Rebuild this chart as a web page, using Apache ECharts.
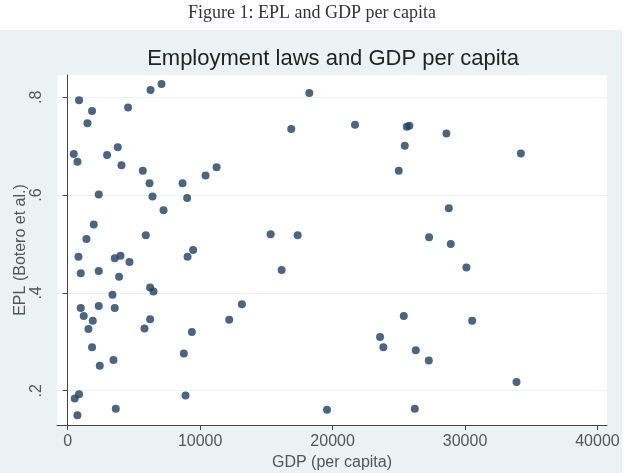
<!DOCTYPE html>
<html>
<head>
<meta charset="utf-8">
<script src="https://cdn.jsdelivr.net/npm/echarts@6/dist/echarts.min.js"></script>
<style>
    html, body { margin: 0; padding: 0; background: #fff; }
    #chart { width: 625px; height: 473px; }
</style>
</head>
<body>
<div id="chart"></div>
<script>
// GDP per capita (x) and EPL index (y)
const gdp = [
    854, 6251, 7082, 1837, 1489, 4558, 454, 733, 2971, 3779,
    4059, 5669, 6175, 6402, 7234, 8670, 9017, 10408, 11240, 2343,
    1965, 1413, 5896, 809, 3553, 3983, 4664, 9048, 9471, 983,
    2343, 3878, 3379, 6221, 6478, 983, 2343, 3553, 1209, 1890,
    1565, 6221, 5797, 9373, 1837, 2419, 3454, 8768, 529, 854,
    733, 3628, 8896, 18239, 16878, 21693, 25601, 25798, 25450, 24996,
    15321, 17362, 16153, 13152, 12192, 25374, 23583, 23832, 26281, 19577,
    26206, 28594, 34218, 28775, 27286, 28926, 30106, 30537, 27264, 33885
]
const epl = [
    0.794, 0.815, 0.827, 0.772, 0.747, 0.779, 0.684, 0.668, 0.682, 0.698,
    0.661, 0.650, 0.624, 0.597, 0.569, 0.624, 0.594, 0.640, 0.657, 0.601,
    0.540, 0.510, 0.518, 0.474, 0.471, 0.476, 0.463, 0.474, 0.488, 0.440,
    0.445, 0.433, 0.396, 0.411, 0.403, 0.369, 0.373, 0.369, 0.353, 0.343,
    0.326, 0.346, 0.327, 0.320, 0.289, 0.251, 0.263, 0.276, 0.184, 0.193,
    0.150, 0.163, 0.190, 0.809, 0.735, 0.744, 0.740, 0.742, 0.701, 0.650,
    0.520, 0.518, 0.447, 0.377, 0.345, 0.353, 0.310, 0.289, 0.283, 0.161,
    0.163, 0.726, 0.685, 0.573, 0.514, 0.500, 0.452, 0.343, 0.262, 0.218
]
const xTicks = [0, 10000, 20000, 30000, 40000]
const yTicks = [0.2, 0.4, 0.6, 0.8]

const points = gdp.map((g, i) => [g, epl[i]])

const chart = echarts.init(document.getElementById('chart'))

const option = {
    backgroundColor: '#ffffff',
    animation: false,
    graphic: [
        {
            type: 'rect',
            z: -100,
            shape: { x: 0, y: 30, width: 622, height: 443 },
            style: { fill: '#eaf2f3' }
        },
        {
            type: 'text',
            x: 312,
            y: 13,
            style: {
                text: 'Figure 1: EPL and GDP per capita',
                font: '18px "Liberation Serif", "DejaVu Serif", serif',
                fill: '#333',
                align: 'center',
                verticalAlign: 'middle'
            }
        },
        {
            type: 'text',
            x: 333,
            y: 59,
            style: {
                text: 'Employment laws and GDP per capita',
                font: '22px "Liberation Sans", Arial, sans-serif',
                fill: '#222',
                align: 'center',
                verticalAlign: 'middle'
            }
        }
    ],
    grid: {
        left: 57,
        top: 75,
        right: 18,
        bottom: 48,
        outerBoundsMode: 'none',
        show: true,
        backgroundColor: '#ffffff',
        borderWidth: 0
    },
    xAxis: {
        type: 'value',
        min: -810,
        max: 40720,
        name: 'GDP (per capita)',
        nameLocation: 'middle',
        nameGap: 27,
        nameTextStyle: { fontFamily: 'Liberation Sans', fontSize: 16, color: '#555' },
        axisLine: { show: true, lineStyle: { color: '#444', width: 1 } },
        axisTick: { show: true, length: 5, customValues: xTicks, lineStyle: { color: '#444' } },
        axisLabel: {
            customValues: xTicks,
            fontFamily: 'Liberation Sans',
            fontSize: 16,
            color: '#555',
            margin: 9,
            formatter: (v) => String(Math.round(v))
        },
        splitLine: { show: false }
    },
    yAxis: {
        type: 'value',
        min: 0.1299,
        max: 0.8456,
        name: 'EPL (Botero et al.)',
        nameLocation: 'middle',
        nameGap: 28,
        nameMoveOverlap: false,
        nameTextStyle: { fontFamily: 'Liberation Sans', fontSize: 16, color: '#555' },
        axisLine: { show: true, lineStyle: { color: '#444', width: 1 } },
        axisTick: { show: true, length: 5, customValues: yTicks, lineStyle: { color: '#444' } },
        axisLabel: {
            customValues: yTicks,
            rotate: 90,
            fontFamily: 'Liberation Sans',
            fontSize: 16,
            color: '#555',
            margin: 12,
            formatter: (v) => String(Math.round(v * 10) / 10).replace('0.', '.')
        },
        splitLine: { show: true, lineStyle: { color: '#edf1f2', width: 1 } }
    },
    series: [
        {
            type: 'scatter',
            data: points,
            symbol: 'circle',
            symbolSize: 8,
            itemStyle: { color: '#1f3f60' }
        }
    ]
}

chart.setOption(option)
</script>
</body>
</html>
